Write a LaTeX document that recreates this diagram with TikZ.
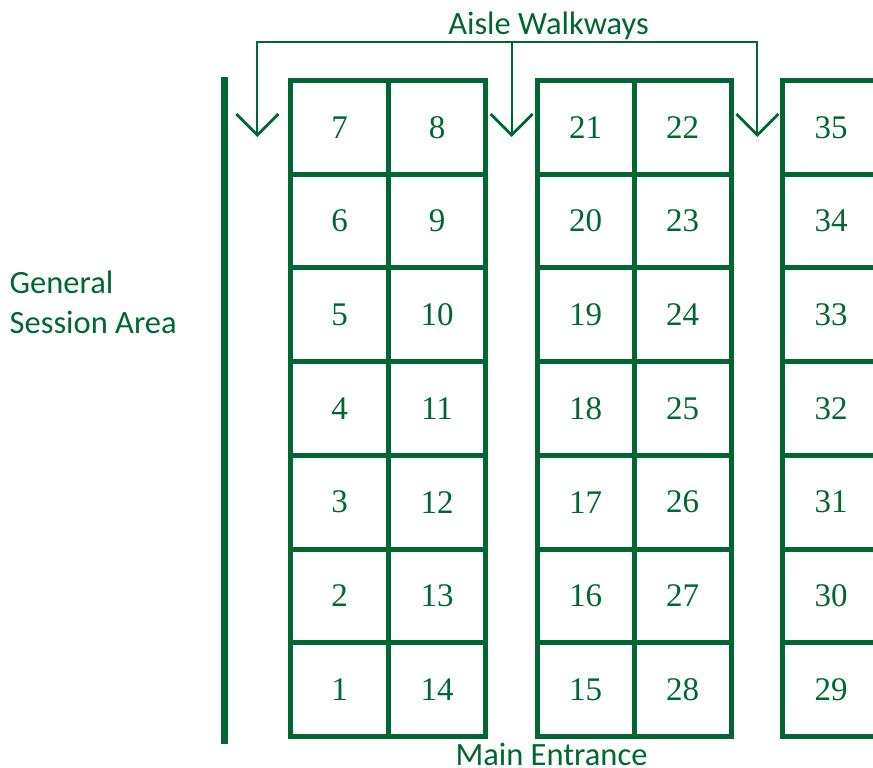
\documentclass[tikz,border=0pt]{standalone}
\usepackage{fontspec}
\setmainfont{Liberation Serif}
\newfontfamily\labelfont{Carlito}
\definecolor{booth}{RGB}{0,102,51}
\begin{document}
\begin{tikzpicture}[x=1pt,y=-1pt,
  cell/.style={draw=booth, line width=5pt, text=booth, minimum height=93.7pt,
    inner sep=0pt, outer sep=0pt, font=\fontsize{33}{33}\selectfont},
  lbl/.style={text=booth, inner sep=0pt, font=\labelfont\fontsize{32.5}{40}\selectfont},
  stem/.style={draw=booth, line width=2.2pt},
  barb/.style={draw=booth, line width=2.8pt},
  wall/.style={draw=booth, line width=6.5pt}]
\useasboundingbox (0,0) rectangle (873,768);
\clip (0,0) rectangle (873,768);
% booths
\foreach \k/\a/\b/\c/\d/\e in {0/7/8/21/22/35,1/6/9/20/23/34,2/5/10/19/24/33,3/4/11/18/25/32,4/3/12/17/26/31,5/2/13/16/27/30,6/1/14/15/28/29}{
  \node[cell, minimum width=98pt] (c\a) at (339.5,{80.5+93.7*(\k+0.5)}) {\a};
  \node[cell, minimum width=97pt] (c\b) at (437,{80.5+93.7*(\k+0.5)}) {\b};
  \node[cell, minimum width=97pt] (c\c) at (585.5,{80.5+93.7*(\k+0.5)}) {\c};
  \node[cell, minimum width=97pt] (c\d) at (682.5,{80.5+93.7*(\k+0.5)}) {\d};
  \node[cell, minimum width=97pt] (c\e) at (831,{80.5+93.7*(\k+0.5)}) {\e};
}
% wall
\draw[wall] (224.5,77.3) -- (224.5,744);
% aisle walkways bracket
\coordinate (h1) at (257.3,42.3);
\coordinate (h2) at (511.7,42.3);
\coordinate (h3) at (757.3,42.3);
\coordinate (t1) at (257.3,135);
\coordinate (t2) at (511.7,135);
\coordinate (t3) at (757.3,135);
\draw[stem] (t1) -- (h1) -- (h3) -- (t3);
\draw[stem] (h2) -- (t2);
\foreach \t in {t1,t2,t3}{
  \draw[barb] (\t) +(-21,-21) -- (\t) -- +(21,-21);
}
% labels
\node[lbl, anchor=base] (aisle) at (548.5,35) {Aisle Walkways};
\node[lbl, anchor=base] (entr) at (551.5,765.5) {Main Entrance};
\node[lbl, anchor=base west] (gen1) at (9.5,293) {General};
\node[lbl, anchor=base west] (gen2) at (9.5,333) {Session Area};
\end{tikzpicture}
\end{document}
